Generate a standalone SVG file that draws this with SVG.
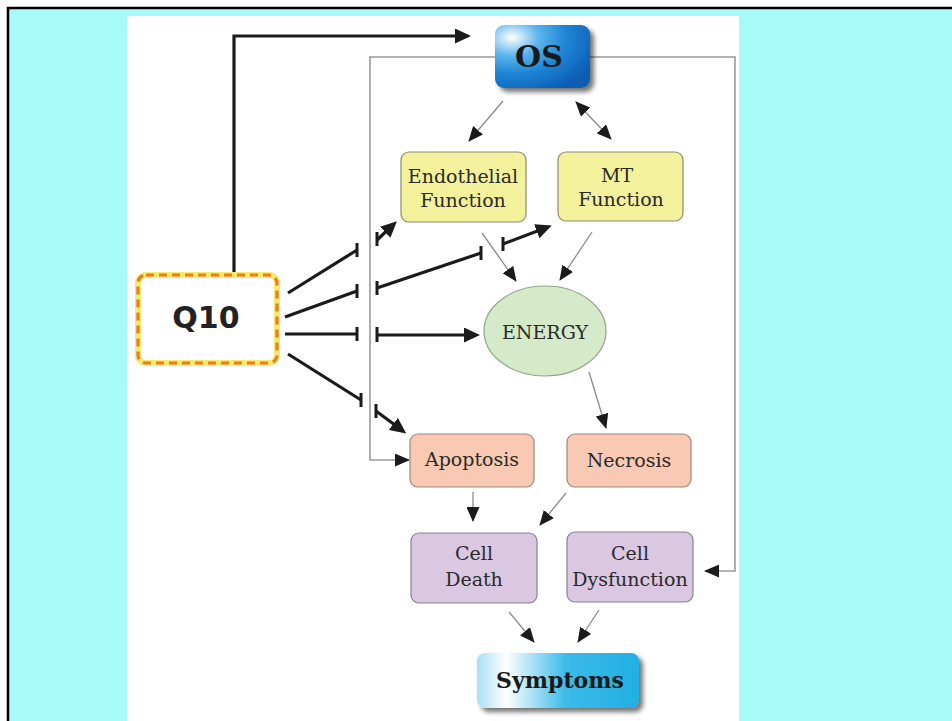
<svg xmlns="http://www.w3.org/2000/svg" width="952" height="721" viewBox="0 0 952 721">
<style>
  .thin{fill:none;stroke:#8a8a8a;stroke-width:1.3}
  .loop{fill:none;stroke:#9a9a9a;stroke-width:1.6}
  .thick{fill:none;stroke:#1b1b1b;stroke-width:3.2}
  .tbar{fill:none;stroke:#1b1b1b;stroke-width:3}
  .lbl{font-family:"DejaVu Serif","Liberation Serif",serif;font-size:19px;fill:#2a2a2a;text-anchor:middle}
  .yel{fill:#F4F19C;stroke:#8d8a6c;stroke-width:1.2}
  .grn{fill:#D4EAC8;stroke:#8FA58A;stroke-width:1.2}
  .sal{fill:#F9C9B3;stroke:#9a8880;stroke-width:1.2}
  .pur{fill:#DAC7E2;stroke:#888090;stroke-width:1.2}
</style>
<defs>
  <marker id="ah" markerUnits="userSpaceOnUse" markerWidth="15" markerHeight="13" refX="14" refY="6.5" orient="auto-start-reverse" viewBox="0 0 15 13">
    <path d="M0,0 L15,6.5 L0,13 Z" fill="#1b1b1b"/>
  </marker>
  <marker id="ahb" markerUnits="userSpaceOnUse" markerWidth="16" markerHeight="15" refX="12" refY="7.5" orient="auto" viewBox="0 0 16 15">
    <path d="M0,0 L16,7.5 L0,15 Z" fill="#1b1b1b"/>
  </marker>
  <radialGradient id="osg" cx="0.18" cy="0.2" r="0.95">
    <stop offset="0" stop-color="#ffffff"/>
    <stop offset="0.3" stop-color="#5db5ec"/>
    <stop offset="0.6" stop-color="#1f86d6"/>
    <stop offset="1" stop-color="#0a5db3"/>
  </radialGradient>
  <linearGradient id="symg" x1="0" y1="0" x2="1" y2="0">
    <stop offset="0" stop-color="#a7e0f4"/>
    <stop offset="0.18" stop-color="#ffffff"/>
    <stop offset="0.55" stop-color="#3bbbe8"/>
    <stop offset="1" stop-color="#22afe3"/>
  </linearGradient>
  <filter id="sh" x="-20%" y="-20%" width="150%" height="160%">
    <feDropShadow dx="4" dy="4" stdDeviation="2.5" flood-color="#000" flood-opacity="0.55"/>
  </filter>
</defs>

<rect x="8" y="8" width="960" height="730" fill="#A6FBF8" stroke="#000" stroke-width="2.5"/>
<rect x="127" y="16" width="612" height="705" fill="#ffffff"/>

<g id="connectors">
  <!-- Q10 to OS -->
  <path class="thick" d="M234,274 V36 H467" stroke-width="3.6" marker-end="url(#ahb)"/>
  <!-- gray loops from OS -->
  <path class="loop" d="M495,57 H370 V460 H409" marker-end="url(#ah)"/>
  <path class="loop" d="M590,57 H735 V571 H705" marker-end="url(#ah)" stroke-width="2.2"/>
  <!-- thin arrows -->
  <path class="thin" d="M503,101 L469,141" marker-end="url(#ah)"/>
  <path class="thin" d="M576,102 L611,139" marker-start="url(#ah)" marker-end="url(#ah)"/>
  <path class="thin" d="M482,233 L516,281" marker-end="url(#ah)"/>
  <path class="thin" d="M592,232 L560,280" marker-end="url(#ah)"/>
  <path class="thin" d="M589,372 L606,428" marker-end="url(#ah)"/>
  <path class="thin" d="M473,492 L473,521" marker-end="url(#ah)"/>
  <path class="thin" d="M566,493 L540,525" marker-end="url(#ah)"/>
  <path class="thin" d="M509,612 L534,642" marker-end="url(#ah)"/>
  <path class="thin" d="M599,610 L578,642" marker-end="url(#ah)"/>
  <!-- Q10 inhibitions -->
  <path class="thick" d="M288,293 L357,250"/>
  <path class="tbar" d="M357,243 V257"/>
  <path class="thick" d="M285,317 L357,291"/>
  <path class="tbar" d="M357,284 V298"/>
  <path class="thick" d="M285,334 H357"/>
  <path class="tbar" d="M357,327 V341"/>
  <path class="thick" d="M288,354 L361,400"/>
  <path class="tbar" d="M361,393 V407"/>
  <!-- released effects -->
  <path class="tbar" d="M377,232 V246"/>
  <path class="thick" d="M377,240 L394,224" marker-end="url(#ahb)"/>
  <path class="tbar" d="M377,281 V295"/>
  <path class="thick" d="M377,288 L481,253"/>
  <path class="tbar" d="M481,246 V260"/>
  <path class="tbar" d="M503,237 V251"/>
  <path class="thick" d="M503,244 L548,227" marker-end="url(#ahb)"/>
  <path class="tbar" d="M377,327 V342"/>
  <path class="thick" d="M377,335 L476,335" marker-end="url(#ahb)"/>
  <path class="tbar" d="M376,404 V418"/>
  <path class="thick" d="M376,411 L403,431" marker-end="url(#ahb)"/>
</g>

<g id="os">
  <rect x="495" y="25" width="95" height="63" rx="9" fill="url(#osg)" filter="url(#sh)"/>
  <text x="539" y="67" font-family="'DejaVu Serif','Liberation Serif',serif" font-weight="bold" font-size="30" fill="#1a1a1a" text-anchor="middle">OS</text>
</g>

<g id="q10">
  <rect x="138" y="275" width="139" height="88" rx="8" fill="#ffffff" stroke="#F5EA6E" stroke-width="6"/>
  <rect x="138" y="275" width="139" height="88" rx="8" fill="none" stroke="#EE7A22" stroke-width="3.2" stroke-dasharray="8 5"/>
  <text x="206" y="328" font-family="'DejaVu Sans','Verdana',sans-serif" font-weight="bold" font-size="30" fill="#222" text-anchor="middle">Q10</text>
</g>

<g id="endothelial">
  <rect class="yel" x="401" y="152" width="125" height="70" rx="8"/>
  <text class="lbl" x="463" y="183">Endothelial</text>
  <text class="lbl" x="463" y="207">Function</text>
</g>

<g id="mt">
  <rect class="yel" x="558" y="152" width="125" height="69" rx="8"/>
  <text class="lbl" x="617" y="182">MT</text>
  <text class="lbl" x="621" y="206">Function</text>
</g>

<g id="energy">
  <ellipse class="grn" cx="545" cy="331" rx="61" ry="45"/>
  <text class="lbl" x="545" y="339">ENERGY</text>
</g>

<g id="apoptosis">
  <rect class="sal" x="410" y="434" width="124" height="53" rx="8"/>
  <text class="lbl" x="472" y="466">Apoptosis</text>
</g>

<g id="necrosis">
  <rect class="sal" x="567" y="434" width="124" height="53" rx="8"/>
  <text class="lbl" x="629" y="467">Necrosis</text>
</g>

<g id="celldeath">
  <rect class="pur" x="411" y="533" width="126" height="70" rx="8"/>
  <text class="lbl" x="474" y="560">Cell</text>
  <text class="lbl" x="474" y="586">Death</text>
</g>

<g id="celldysfunction">
  <rect class="pur" x="567" y="532" width="126" height="70" rx="8"/>
  <text class="lbl" x="630" y="560">Cell</text>
  <text class="lbl" x="630" y="586">Dysfunction</text>
</g>

<g id="symptoms">
  <rect x="477" y="653" width="162" height="55" rx="8" fill="url(#symg)" filter="url(#sh)"/>
  <text x="560" y="688" font-family="'DejaVu Serif','Liberation Serif',serif" font-weight="bold" font-size="22" fill="#1a1a1a" text-anchor="middle">Symptoms</text>
</g>
</svg>
